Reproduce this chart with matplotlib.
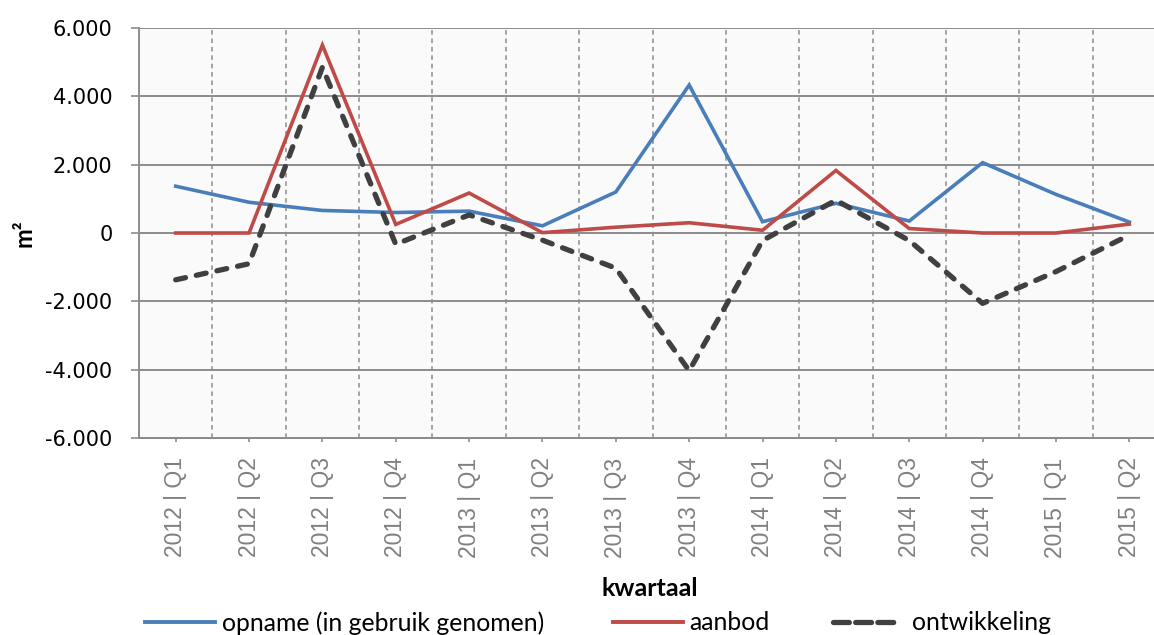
import matplotlib
matplotlib.use("Agg")
import matplotlib.pyplot as plt
from matplotlib.ticker import FuncFormatter, FixedLocator
from matplotlib.lines import Line2D

categories = ['2012 | Q1', '2012 | Q2', '2012 | Q3', '2012 | Q4',
              '2013 | Q1', '2013 | Q2', '2013 | Q3', '2013 | Q4',
              '2014 | Q1', '2014 | Q2', '2014 | Q3', '2014 | Q4',
              '2015 | Q1', '2015 | Q2']
opname = [1370, 900, 660, 600, 640, 210, 1200, 4330, 330, 870, 350, 2060, 1130, 320]
aanbod = [0, 0, 5500, 250, 1170, 10, 170, 300, 80, 1830, 130, 0, 0, 260]
ontwikkeling = [-1370, -900, 4850, -330, 530, -210, -1030, -4030, -220, 960, -220, -2060, -1130, -60]
y_ticks = [-6000, -4000, -2000, 0, 2000, 4000, 6000]

BLUE = '#4a7ebb'
RED = '#be4b48'
DARK = '#404040'
GRID = '#8c8c8c'

W, H = 1154, 635
fig = plt.figure(figsize=(W / 100, H / 100), dpi=100)
left, right, top, bottom = 139, 1166, 28, 438
ax = fig.add_axes([left / W, 1 - bottom / H, (right - left) / W, (bottom - top) / H])
ax.set_facecolor('#fafafa')

x = list(range(len(categories)))
ax.plot(x, opname, color=BLUE, lw=2.6, solid_joinstyle='miter', zorder=4)
ax.plot(x, aanbod, color=RED, lw=2.6, solid_joinstyle='miter', zorder=4)
ax.plot(x, ontwikkeling, color=DARK, lw=3.8, dashes=(1.9, 2.1),
        dash_capstyle='round', zorder=5)

ax.set_xlim(-0.5, len(categories) - 0.5)
ax.set_ylim(-6000, 6000)
ax.set_yticks(y_ticks)
ax.yaxis.set_major_formatter(FuncFormatter(lambda v, p: f"{int(v):,}".replace(',', '.')))
ax.tick_params(axis='y', direction='out', length=6, width=1.2, color=GRID,
               pad=13, labelsize=15, labelcolor='black')
for t in ax.get_yticklabels():
    t.set_fontfamily('DejaVu Sans')

ax.set_xticks(x)
ax.set_xticklabels(categories, rotation=90, fontsize=16.5, color='#808080',
                   family='Liberation Sans', va='top')
ax.tick_params(axis='x', length=0, pad=14)

# boundaries between categories: dashed vertical gridlines
ax.xaxis.set_minor_locator(FixedLocator([i + 0.5 for i in range(len(categories) - 1)]))
ax.tick_params(axis='x', which='minor', length=0)
ax.grid(axis='x', which='minor', color=GRID, lw=1.1, linestyle=(0, (3, 2.5)))
ax.grid(axis='y', which='major', color=GRID, lw=1.4, linestyle='-')
ax.set_axisbelow(True)

for s in ['top', 'right']:
    ax.spines[s].set_visible(False)
for s in ['left', 'bottom']:
    ax.spines[s].set_color(GRID)
    ax.spines[s].set_linewidth(1.4)

# category axis crossing at zero with small ticks
sec = ax.secondary_xaxis(0)
sec.set_xticks(x)
sec.set_xticklabels([''] * len(x))
sec.tick_params(axis='x', direction='out', length=3, width=1.2, color=GRID)
sec.spines['bottom'].set_color(GRID)
sec.spines['bottom'].set_linewidth(1.4)

fig.text(24 / W, 1 - 233 / H, 'm²', rotation=90, ha='center', va='center',
         fontsize=17, fontweight='bold', family='Lato')
fig.text(650 / W, 1 - 589 / H, 'kwartaal', ha='center', va='center',
         fontsize=18, fontweight='bold', family='Lato')

entries = [
    (145, Line2D([], [], color=BLUE, lw=2.8), 'opname (in gebruik genomen)', 2.85, 0.28),
    (613, Line2D([], [], color=RED, lw=2.8), 'aanbod', 2.85, 0.22),
    (833, Line2D([], [], color=DARK, lw=3.8, dashes=(3.0, 1.2),
                 dash_capstyle='round'), 'ontwikkeling', 2.6, 0.6),
]
for xpos, h, lab, hl, tp in entries:
    fig.legend([h], [lab], loc='center left', bbox_to_anchor=(xpos / W, 1 - 623 / H),
               frameon=False, borderpad=0, borderaxespad=0, handlelength=hl,
               handletextpad=tp, prop={'family': 'Lato', 'size': 17.8})

fig.savefig('out.png', dpi=100)
